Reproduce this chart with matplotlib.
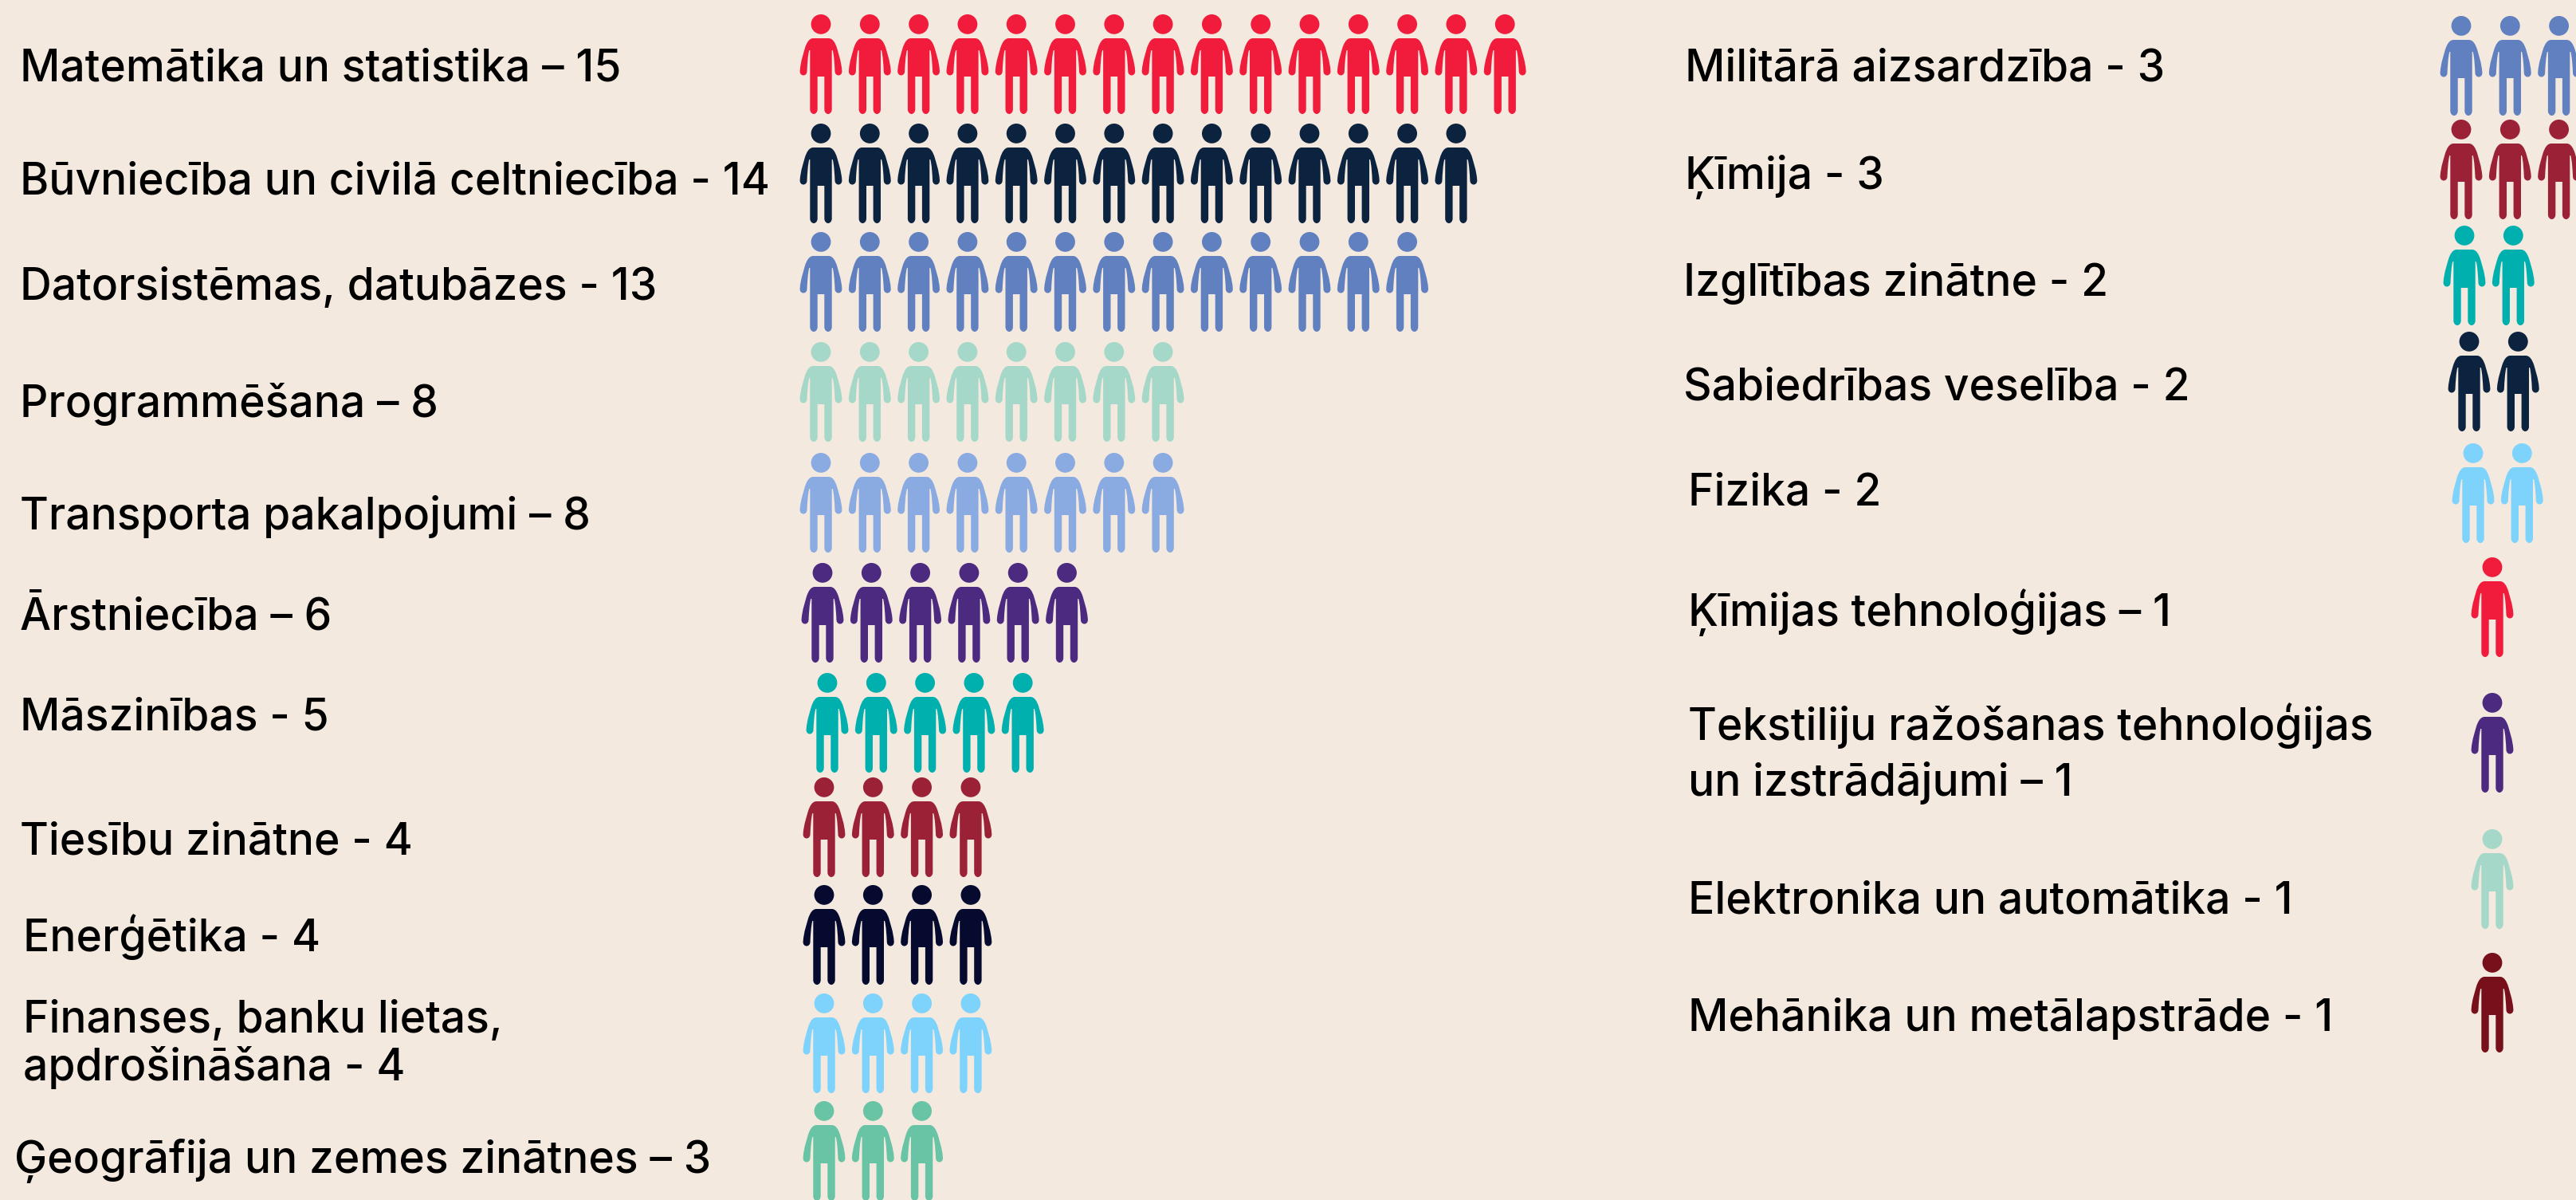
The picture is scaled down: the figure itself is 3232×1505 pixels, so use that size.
import matplotlib
matplotlib.use("Agg")
import matplotlib.pyplot as plt
from matplotlib.path import Path
from matplotlib.patches import PathPatch
from matplotlib.transforms import Affine2D

BG = '#F3E9DF'
RED = '#F11C3B'
NAVY = '#0C2340'
BLUE = '#6180C0'
MINT = '#A5D8C8'
PERI = '#8AAAE2'
PURPLE = '#4B2A80'
TEAL = '#00B0AE'
CRIMSON = '#9B2137'
INK = '#050A2E'
SKY = '#7DD3FB'
GREEN = '#68C4A4'
MAROON = '#78101C'

# left column
left_labels = ['Matemātika un statistika – 15', 'Būvniecība un civilā celtniecība - 14',
               'Datorsistēmas, datubāzes - 13', 'Programmēšana – 8', 'Transporta pakalpojumi – 8',
               'Ārstniecība – 6', 'Māszinības - 5', 'Tiesību zinātne - 4', 'Enerģētika - 4',
               'Finanses, banku lietas,\napdrošināšana - 4', 'Ģeogrāfija un zemes zinātnes – 3']
left_counts = [15, 14, 13, 8, 8, 6, 5, 4, 4, 4, 3]
left_colors = [RED, NAVY, BLUE, MINT, PERI, PURPLE, TEAL, CRIMSON, INK, SKY, GREEN]

# right column
right_labels = ['Militārā aizsardzība - 3', 'Ķīmija - 3', 'Izglītības zinātne - 2',
                'Sabiedrības veselība - 2', 'Fizika - 2', 'Ķīmijas tehnoloģijas – 1',
                'Tekstiliju ražošanas tehnoloģijas\nun izstrādājumi – 1',
                'Elektronika un automātika - 1', 'Mehānika un metālapstrāde - 1']
right_counts = [3, 3, 2, 2, 2, 1, 1, 1, 1]
right_colors = [BLUE, CRIMSON, TEAL, NAVY, SKY, RED, PURPLE, MINT, MAROON]

# layout, in pixels of the full picture
left_text_x = [25, 25, 25, 25, 25, 25, 25, 25, 29, 29, 18]
left_text_y = [87, 229, 361, 507, 648, 775, 901, 1057, 1175, 1310, 1456]
left_icon_x = [1030, 1030, 1030, 1030, 1030, 1032, 1038, 1034, 1034, 1034, 1034]
left_icon_y = [18, 155, 291, 429, 568, 706, 844, 975, 1110, 1246, 1381]
right_text_x = [2114, 2114, 2112, 2112, 2118, 2118, 2118, 2118, 2118]
right_text_y = [86, 222, 356, 487, 618, 768, 945, 1130, 1277]
right_icon_x = [3088, 3088, 3092, 3098, 3103, 3127, 3127, 3127, 3127]
right_icon_y = [20, 150, 283, 416, 556, 699, 869, 1040, 1195]
pitch = 61.3


def person_path():
    # one figure: centre at x=0, top of the head at y=0, 125 px tall
    head = Path.circle((0, 12.4), 12.4)
    right = [(0, 30), (9.5, 30), (15, 30), (18, 36), (20, 42), (21.5, 48), (25.5, 58), (26.4, 71),
             (26.6, 75), (24, 76.5), (22, 76.5), (20, 76.5), (17.8, 75), (17.5, 72),
             (17, 62), (16.5, 52), (14.7, 45), (13.7, 45), (13.7, 119),
             (13.7, 123), (11, 125), (9, 125), (7, 125), (4.3, 123), (4.3, 119), (4.3, 78), (0, 78)]
    rc = [Path.LINETO, Path.LINETO, Path.CURVE4, Path.CURVE4, Path.CURVE4, Path.CURVE4, Path.CURVE4, Path.CURVE4,
          Path.CURVE4, Path.CURVE4, Path.CURVE4, Path.CURVE4, Path.CURVE4, Path.CURVE4,
          Path.CURVE4, Path.CURVE4, Path.CURVE4, Path.LINETO, Path.LINETO,
          Path.CURVE4, Path.CURVE4, Path.CURVE4, Path.CURVE4, Path.CURVE4, Path.CURVE4, Path.LINETO, Path.LINETO]
    # left half mirrors the right half, walked backwards
    v = list(right)
    c = [Path.MOVETO] + rc[1:]
    mirrored = [(-x, y) for x, y in reversed(right)]
    v += mirrored[1:]
    c += list(reversed(rc[1:]))
    v.append((0, 30))
    c.append(Path.CLOSEPOLY)
    return Path.make_compound_path(head, Path(v, c))


fig = plt.figure(figsize=(32.32, 15.05), dpi=100, facecolor=BG)
ax = fig.add_axes([0, 0, 1, 1])
ax.set_xlim(0, 3232)
ax.set_ylim(1505, 0)
ax.axis('off')

person = person_path()


def draw_column(labels, counts, colors, text_x, text_y, icon_x, icon_y, spacing):
    for i in range(len(labels)):
        ax.text(text_x[i], text_y[i], labels[i], family='Inter', fontsize=39.7, weight='medium',
                color='black', va='center', ha='left', linespacing=spacing)
        for n in range(counts[i]):
            t = Affine2D().translate(icon_x[i] + n * pitch, icon_y[i]) + ax.transData
            ax.add_patch(PathPatch(person, facecolor=colors[i], edgecolor='none', transform=t, clip_on=True))


draw_column(left_labels, left_counts, left_colors, left_text_x, left_text_y, left_icon_x, left_icon_y, 1.12)
draw_column(right_labels, right_counts, right_colors, right_text_x, right_text_y, right_icon_x, right_icon_y, 1.39)

fig.savefig('out.png', dpi=100, facecolor=BG)
